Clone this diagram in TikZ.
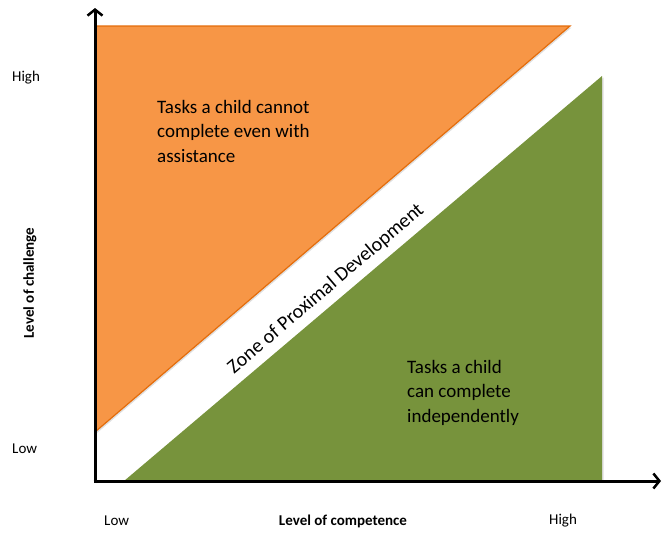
\documentclass[tikz,border=0pt]{standalone}
\usepackage{fontspec}
\setmainfont{Carlito}
\usetikzlibrary{arrows.meta, shadows}
\definecolor{zpdorange}{HTML}{F79646}
\definecolor{zpdorangedark}{HTML}{E46C0A}
\definecolor{zpdgreen}{HTML}{77933C}
\begin{document}
\begin{tikzpicture}[x=1pt, y=-1pt,
  axis/.style={line width=3pt, -{Straight Barb[length=6pt, width=15pt, line width=2.5pt]}},
  shade1/.style={drop shadow={opacity=0.25, shadow xshift=1.5pt, shadow yshift=-1.5pt}},
  tick/.style={font=\fontsize{15}{18}\selectfont, inner sep=0},
  axlabel/.style={font=\bfseries\fontsize{15}{18}\selectfont, inner sep=0},
  bodytext/.style={font=\fontsize{19}{24.5}\selectfont, align=left, inner sep=0, anchor=north west}
]
\useasboundingbox (0,0) rectangle (663,533);
% regions
\fill[zpdorange, draw=zpdorangedark, line width=1.2pt, shade1] (95,26) -- (570,26) -- (95,432) -- cycle;
\fill[zpdgreen, shade1] (124,481) -- (602,76) -- (602,481) -- cycle;
% axes
\coordinate (origin) at (95,481);
\coordinate (ytop) at (95,8);
\coordinate (xend) at (661,481);
\draw[axis, shade1] ([yshift=-1.5pt]origin) -- (ytop);
\draw[axis, shade1] ([xshift=-1.5pt]origin) -- (xend);
% labels
\node[tick, anchor=west] (yhigh) at (12,78) {High};
\node[tick, anchor=west] (ylow) at (12,449) {Low};
\node[axlabel, rotate=90] (ylabel) at (30,283) {Level of challenge};
\node[tick, anchor=west] (xlow) at (104,521) {Low};
\node[axlabel] (xlabel) at (343,521) {Level of competence};
\node[tick, anchor=west] (xhigh) at (549,521) {High};
\node[bodytext] (hard) at (157,100) {Tasks a child cannot\\complete even with\\assistance};
\node[bodytext] (easy) at (407,360) {Tasks a child\\can complete\\independently};
\node[font=\fontsize{20}{24}\selectfont, rotate=40.4, inner sep=0] (zpd) at (326,289) {Zone of Proximal Development};
\end{tikzpicture}
\end{document}
